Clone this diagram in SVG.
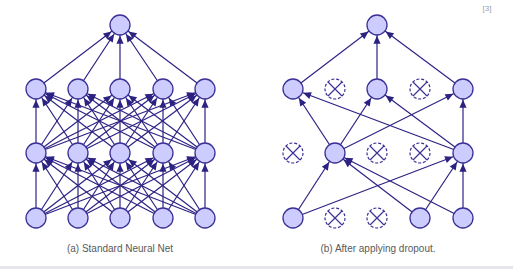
<svg xmlns="http://www.w3.org/2000/svg" width="513" height="269" viewBox="0 0 513 269">
<style>
.e{stroke:#2c2282;stroke-width:1.2;fill:none;marker-end:url(#ah)}
.n{fill:#ccccff;stroke:#3a3096;stroke-width:1.3}
.d{fill:#ffffff;stroke:#3a3096;stroke-width:1.2;stroke-dasharray:3,1.8}
.x{stroke:#3a3096;stroke-width:1.2}
.cap{font-family:"Liberation Sans",Arial,sans-serif;font-size:10px;fill:#5a5a5a;text-anchor:middle}
</style>
<defs>
<marker id="ah" markerUnits="userSpaceOnUse" viewBox="-9 -5 22 10" markerWidth="22" markerHeight="10" refX="10.7" refY="0" orient="auto" overflow="visible">
<path d="M-8,-3.6 L0,0 L-8,3.6 z" fill="#2c2282"/>
</marker>
</defs>
<rect width="513" height="269" fill="#ffffff"/>
<rect x="0" y="266" width="513" height="3" fill="#e6e6ec"/>
<text x="487" y="11" font-family="Liberation Sans,Arial,sans-serif" font-size="8" fill="#9a9ab0" text-anchor="middle">[3]</text>
<g id="connectors">
<line class="e" x1="36" y1="89" x2="120" y2="25"/>
<line class="e" x1="78" y1="89" x2="120" y2="25"/>
<line class="e" x1="120" y1="89" x2="120" y2="25"/>
<line class="e" x1="163" y1="89" x2="120" y2="25"/>
<line class="e" x1="205" y1="89" x2="120" y2="25"/>
<line class="e" x1="36" y1="153" x2="36" y2="89"/>
<line class="e" x1="36" y1="153" x2="78" y2="89"/>
<line class="e" x1="36" y1="153" x2="120" y2="89"/>
<line class="e" x1="36" y1="153" x2="163" y2="89"/>
<line class="e" x1="36" y1="153" x2="205" y2="89"/>
<line class="e" x1="78" y1="153" x2="36" y2="89"/>
<line class="e" x1="78" y1="153" x2="78" y2="89"/>
<line class="e" x1="78" y1="153" x2="120" y2="89"/>
<line class="e" x1="78" y1="153" x2="163" y2="89"/>
<line class="e" x1="78" y1="153" x2="205" y2="89"/>
<line class="e" x1="120" y1="153" x2="36" y2="89"/>
<line class="e" x1="120" y1="153" x2="78" y2="89"/>
<line class="e" x1="120" y1="153" x2="120" y2="89"/>
<line class="e" x1="120" y1="153" x2="163" y2="89"/>
<line class="e" x1="120" y1="153" x2="205" y2="89"/>
<line class="e" x1="163" y1="153" x2="36" y2="89"/>
<line class="e" x1="163" y1="153" x2="78" y2="89"/>
<line class="e" x1="163" y1="153" x2="120" y2="89"/>
<line class="e" x1="163" y1="153" x2="163" y2="89"/>
<line class="e" x1="163" y1="153" x2="205" y2="89"/>
<line class="e" x1="205" y1="153" x2="36" y2="89"/>
<line class="e" x1="205" y1="153" x2="78" y2="89"/>
<line class="e" x1="205" y1="153" x2="120" y2="89"/>
<line class="e" x1="205" y1="153" x2="163" y2="89"/>
<line class="e" x1="205" y1="153" x2="205" y2="89"/>
<line class="e" x1="36" y1="218" x2="36" y2="153"/>
<line class="e" x1="36" y1="218" x2="78" y2="153"/>
<line class="e" x1="36" y1="218" x2="120" y2="153"/>
<line class="e" x1="36" y1="218" x2="163" y2="153"/>
<line class="e" x1="36" y1="218" x2="205" y2="153"/>
<line class="e" x1="78" y1="218" x2="36" y2="153"/>
<line class="e" x1="78" y1="218" x2="78" y2="153"/>
<line class="e" x1="78" y1="218" x2="120" y2="153"/>
<line class="e" x1="78" y1="218" x2="163" y2="153"/>
<line class="e" x1="78" y1="218" x2="205" y2="153"/>
<line class="e" x1="120" y1="218" x2="36" y2="153"/>
<line class="e" x1="120" y1="218" x2="78" y2="153"/>
<line class="e" x1="120" y1="218" x2="120" y2="153"/>
<line class="e" x1="120" y1="218" x2="163" y2="153"/>
<line class="e" x1="120" y1="218" x2="205" y2="153"/>
<line class="e" x1="163" y1="218" x2="36" y2="153"/>
<line class="e" x1="163" y1="218" x2="78" y2="153"/>
<line class="e" x1="163" y1="218" x2="120" y2="153"/>
<line class="e" x1="163" y1="218" x2="163" y2="153"/>
<line class="e" x1="163" y1="218" x2="205" y2="153"/>
<line class="e" x1="205" y1="218" x2="36" y2="153"/>
<line class="e" x1="205" y1="218" x2="78" y2="153"/>
<line class="e" x1="205" y1="218" x2="120" y2="153"/>
<line class="e" x1="205" y1="218" x2="163" y2="153"/>
<line class="e" x1="205" y1="218" x2="205" y2="153"/>
<line class="e" x1="293" y1="89" x2="377" y2="25"/>
<line class="e" x1="377" y1="89" x2="377" y2="25"/>
<line class="e" x1="463" y1="89" x2="377" y2="25"/>
<line class="e" x1="335" y1="153" x2="293" y2="89"/>
<line class="e" x1="463" y1="153" x2="293" y2="89"/>
<line class="e" x1="335" y1="153" x2="377" y2="89"/>
<line class="e" x1="463" y1="153" x2="377" y2="89"/>
<line class="e" x1="335" y1="153" x2="463" y2="89"/>
<line class="e" x1="463" y1="153" x2="463" y2="89"/>
<line class="e" x1="293" y1="218" x2="335" y2="153"/>
<line class="e" x1="420" y1="218" x2="335" y2="153"/>
<line class="e" x1="463" y1="218" x2="335" y2="153"/>
<line class="e" x1="293" y1="218" x2="463" y2="153"/>
<line class="e" x1="420" y1="218" x2="463" y2="153"/>
<line class="e" x1="463" y1="218" x2="463" y2="153"/>
</g>
<g id="netA">
<g id="a-out"><circle class="n" cx="120" cy="25" r="10"/></g>
<g id="a-h2-1"><circle class="n" cx="36" cy="89" r="10"/></g>
<g id="a-h2-2"><circle class="n" cx="78" cy="89" r="10"/></g>
<g id="a-h2-3"><circle class="n" cx="120" cy="89" r="10"/></g>
<g id="a-h2-4"><circle class="n" cx="163" cy="89" r="10"/></g>
<g id="a-h2-5"><circle class="n" cx="205" cy="89" r="10"/></g>
<g id="a-h1-1"><circle class="n" cx="36" cy="153" r="10"/></g>
<g id="a-h1-2"><circle class="n" cx="78" cy="153" r="10"/></g>
<g id="a-h1-3"><circle class="n" cx="120" cy="153" r="10"/></g>
<g id="a-h1-4"><circle class="n" cx="163" cy="153" r="10"/></g>
<g id="a-h1-5"><circle class="n" cx="205" cy="153" r="10"/></g>
<g id="a-in-1"><circle class="n" cx="36" cy="218" r="10"/></g>
<g id="a-in-2"><circle class="n" cx="78" cy="218" r="10"/></g>
<g id="a-in-3"><circle class="n" cx="120" cy="218" r="10"/></g>
<g id="a-in-4"><circle class="n" cx="163" cy="218" r="10"/></g>
<g id="a-in-5"><circle class="n" cx="205" cy="218" r="10"/></g>
</g>
<g id="netB">
<g id="b-out"><circle class="n" cx="377" cy="25" r="10"/></g>
<g id="b-h2-1"><circle class="n" cx="293" cy="89" r="10"/></g>
<g id="b-h2-2"><circle class="d" cx="335" cy="89" r="10"/><path class="x" d="M328,82 L342,96 M342,82 L328,96"/></g>
<g id="b-h2-3"><circle class="n" cx="377" cy="89" r="10"/></g>
<g id="b-h2-4"><circle class="d" cx="420" cy="89" r="10"/><path class="x" d="M413,82 L427,96 M427,82 L413,96"/></g>
<g id="b-h2-5"><circle class="n" cx="463" cy="89" r="10"/></g>
<g id="b-h1-1"><circle class="d" cx="293" cy="153" r="10"/><path class="x" d="M286,146 L300,160 M300,146 L286,160"/></g>
<g id="b-h1-2"><circle class="n" cx="335" cy="153" r="10"/></g>
<g id="b-h1-3"><circle class="d" cx="377" cy="153" r="10"/><path class="x" d="M370,146 L384,160 M384,146 L370,160"/></g>
<g id="b-h1-4"><circle class="d" cx="420" cy="153" r="10"/><path class="x" d="M413,146 L427,160 M427,146 L413,160"/></g>
<g id="b-h1-5"><circle class="n" cx="463" cy="153" r="10"/></g>
<g id="b-in-1"><circle class="n" cx="293" cy="218" r="10"/></g>
<g id="b-in-2"><circle class="d" cx="335" cy="218" r="10"/><path class="x" d="M328,211 L342,225 M342,211 L328,225"/></g>
<g id="b-in-3"><circle class="d" cx="377" cy="218" r="10"/><path class="x" d="M370,211 L384,225 M384,211 L370,225"/></g>
<g id="b-in-4"><circle class="n" cx="420" cy="218" r="10"/></g>
<g id="b-in-5"><circle class="n" cx="463" cy="218" r="10"/></g>
</g>
<text class="cap" x="120" y="251.5">(a) Standard Neural Net</text>
<text class="cap" x="378" y="251.5">(b) After applying dropout.</text>
</svg>
